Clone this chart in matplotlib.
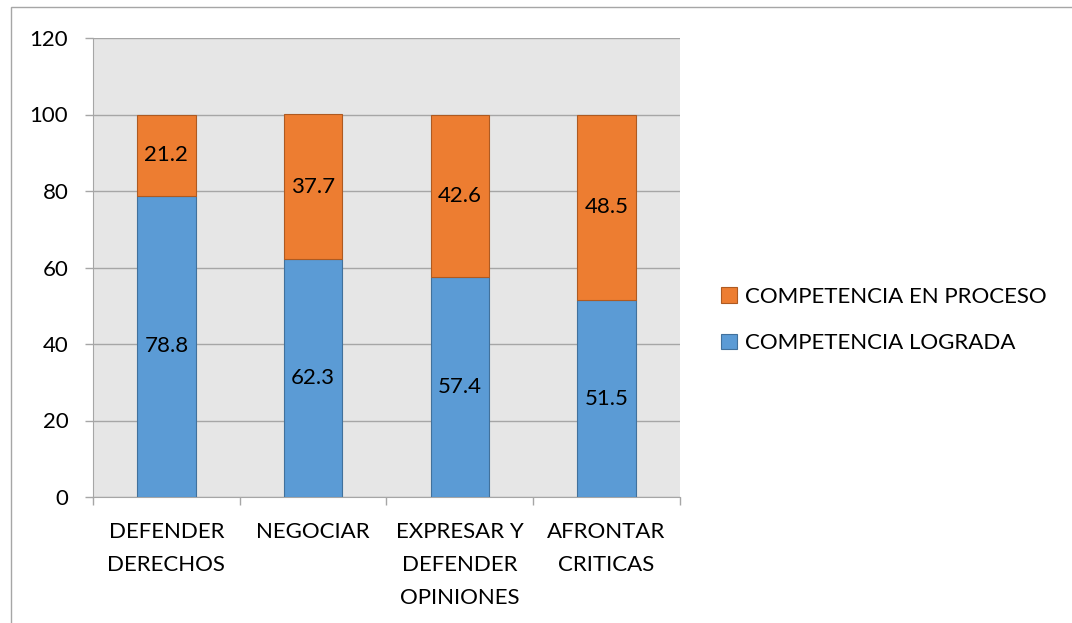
import matplotlib
matplotlib.use("Agg")
import matplotlib.pyplot as plt
from matplotlib.patches import Rectangle
from matplotlib.ticker import MultipleLocator, FixedLocator
import numpy as np

categories = ["DEFENDER\nDERECHOS", "NEGOCIAR", "EXPRESAR Y\nDEFENDER\nOPINIONES", "AFRONTAR\nCRITICAS"]
lograda = [78.8, 62.3, 57.4, 51.5]
proceso = [21.2, 37.7, 42.6, 48.5]
series_names = ["COMPETENCIA LOGRADA", "COMPETENCIA EN PROCESO"]

plt.rcParams['font.family'] = ['Lato', 'DejaVu Sans']

fig = plt.figure(figsize=(10.72, 6.23), dpi=100)
ax = fig.add_axes([93/1072, 1 - 497/623, (680 - 93)/1072, (497 - 38)/623])
ax.set_facecolor("#E6E6E6")

x = np.arange(len(categories))
w = 0.4
b1 = ax.bar(x, lograda, w, color="#5B9BD5", edgecolor="#41719C", linewidth=0.8,
            label=series_names[0], zorder=3)
b2 = ax.bar(x, proceso, w, bottom=lograda, color="#ED7D31", edgecolor="#AE5A21",
            linewidth=0.8, label=series_names[1], zorder=3)

for i in range(len(categories)):
    ax.text(x[i], lograda[i] / 2, f"{lograda[i]:.1f}", ha="center", va="center",
            fontsize=16, color="black", zorder=4)
    ax.text(x[i], lograda[i] + proceso[i] / 2, f"{proceso[i]:.1f}", ha="center",
            va="center", fontsize=16, color="black", zorder=4)

ax.set_xlim(-0.5, len(categories) - 0.5)
ax.set_ylim(0, 120)
ax.yaxis.set_major_locator(MultipleLocator(20))
ax.yaxis.grid(True, color="#A6A6A6", linewidth=1.0, zorder=1)
ax.set_axisbelow(True)

ax.set_xticks(x)
ax.set_xticklabels(categories, fontsize=16, linespacing=1.8)
ax.xaxis.set_minor_locator(FixedLocator(np.arange(-0.5, len(categories), 1.0)))
ax.tick_params(axis="x", which="major", length=0, pad=18)
ax.tick_params(axis="x", which="minor", length=5.8, color="#A6A6A6", width=1.0)
ax.tick_params(axis="y", length=5.8, color="#A6A6A6", width=1.0, labelsize=16, pad=12)

ax.spines["right"].set_visible(False)
ax.spines["top"].set_visible(False)
ax.spines["left"].set_color("#A6A6A6")
ax.spines["bottom"].set_color("#A6A6A6")

handles = [b2, b1]
fig.legend(handles, [series_names[1], series_names[0]], loc="center left",
           bbox_to_anchor=(721/1072, 1 - 320/623), frameon=False, fontsize=16,
           handlelength=0.7, handleheight=0.7, handletextpad=0.4, labelspacing=1.2,
           borderpad=0, borderaxespad=0)

fig.patches.append(Rectangle((11/1072, -0.1), 1.2, (623 - 7)/623 + 0.1,
                             transform=fig.transFigure, fill=False,
                             edgecolor="#A6A6A6", linewidth=1.0))

fig.savefig("out.png", dpi=100)
